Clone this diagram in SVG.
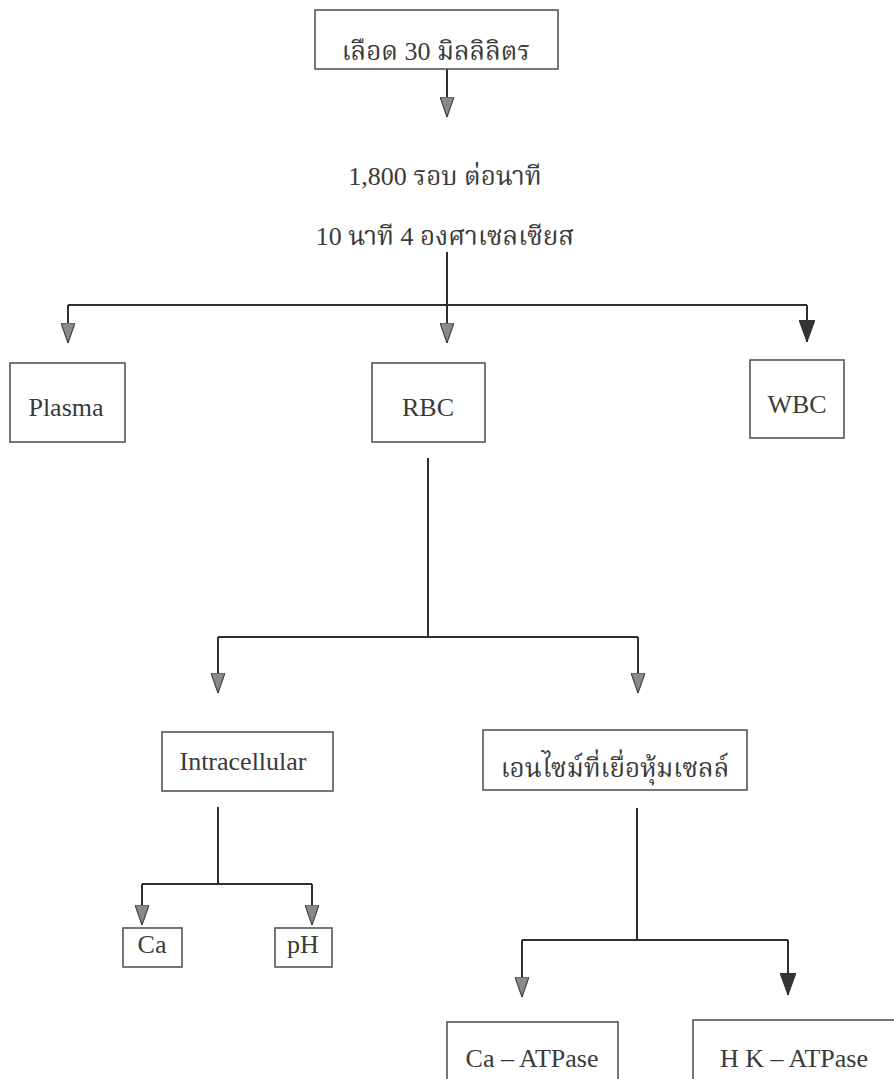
<svg xmlns="http://www.w3.org/2000/svg" width="894" height="1079" viewBox="0 0 894 1079">
<style>
.box{fill:none;stroke:#555;stroke-width:1.6}
.t{font-family:"Liberation Serif","Noto Serif Thai","Noto Sans Thai","Loma","Garuda","DejaVu Sans",serif;font-size:26px;fill:#3a3a3a;text-anchor:middle}
.c{fill:none;stroke:#2e2e2e;stroke-width:2}
.la{marker-end:url(#light)}
.sa{marker-end:url(#solid)}
</style>
<defs>
<marker id="light" markerUnits="userSpaceOnUse" viewBox="0 0 20 14" refX="20" refY="7" markerWidth="20" markerHeight="14" orient="auto">
<path d="M0,0 L20,7 L0,14 Z" fill="#8a8a8a" stroke="#444" stroke-width="1.2"/>
</marker>
<marker id="solid" markerUnits="userSpaceOnUse" viewBox="0 0 22 16" refX="22" refY="8" markerWidth="22" markerHeight="16" orient="auto">
<path d="M0,0 L22,8 L0,16 Z" fill="#333" stroke="#333" stroke-width="1"/>
</marker>
</defs>
<rect width="894" height="1079" fill="#ffffff"/>

<g id="connectors">
<path class="c la" d="M447,69 V117"/>
<path class="c" d="M447,252 V305 M68,305 H807"/>
<path class="c la" d="M68,305 V343"/>
<path class="c la" d="M447,305 V343"/>
<path class="c sa" d="M807,305 V342"/>
<path class="c" d="M428,458 V637 M218,637 H638"/>
<path class="c la" d="M218,637 V693"/>
<path class="c la" d="M638,637 V693"/>
<path class="c" d="M218,807 V884 M142,884 H312"/>
<path class="c la" d="M142,884 V925"/>
<path class="c la" d="M312,884 V925"/>
<path class="c" d="M637,808 V940 M522,940 H788"/>
<path class="c la" d="M522,940 V997"/>
<path class="c sa" d="M788,940 V995"/>
</g>

<g id="blood">
<rect class="box" x="315" y="10" width="243" height="59"/>
<text class="t" x="436" y="60">เลือด 30 มิลลิลิตร</text>
</g>
<g id="condition">
<text class="t" x="445" y="185">1,800 รอบ ต่อนาที</text>
<text class="t" x="445" y="245">10 นาที 4 องศาเซลเซียส</text>
</g>
<g id="plasma">
<rect class="box" x="10" y="363" width="115" height="79"/>
<text class="t" x="66" y="416">Plasma</text>
</g>
<g id="rbc">
<rect class="box" x="372" y="363" width="113" height="79"/>
<text class="t" x="428" y="416">RBC</text>
</g>
<g id="wbc">
<rect class="box" x="750" y="360" width="94" height="78"/>
<text class="t" x="797" y="413">WBC</text>
</g>
<g id="intracellular">
<rect class="box" x="162" y="732" width="171" height="59"/>
<text class="t" x="243" y="770">Intracellular</text>
</g>
<g id="enzyme">
<rect class="box" x="483" y="730" width="264" height="60"/>
<text class="t" x="615" y="777">เอนไซม์ที่เยื่อหุ้มเซลล์</text>
</g>
<g id="ca">
<rect class="box" x="123" y="928" width="59" height="39"/>
<text class="t" x="152" y="953">Ca</text>
</g>
<g id="ph">
<rect class="box" x="275" y="928" width="57" height="39"/>
<text class="t" x="303" y="953">pH</text>
</g>
<g id="ca-atpase">
<rect class="box" x="447" y="1022" width="171" height="70"/>
<text class="t" x="532" y="1067">Ca – ATPase</text>
</g>
<g id="hk-atpase">
<rect class="box" x="693" y="1020" width="215" height="70"/>
<text class="t" x="794" y="1067">H K – ATPase</text>
</g>
</svg>
